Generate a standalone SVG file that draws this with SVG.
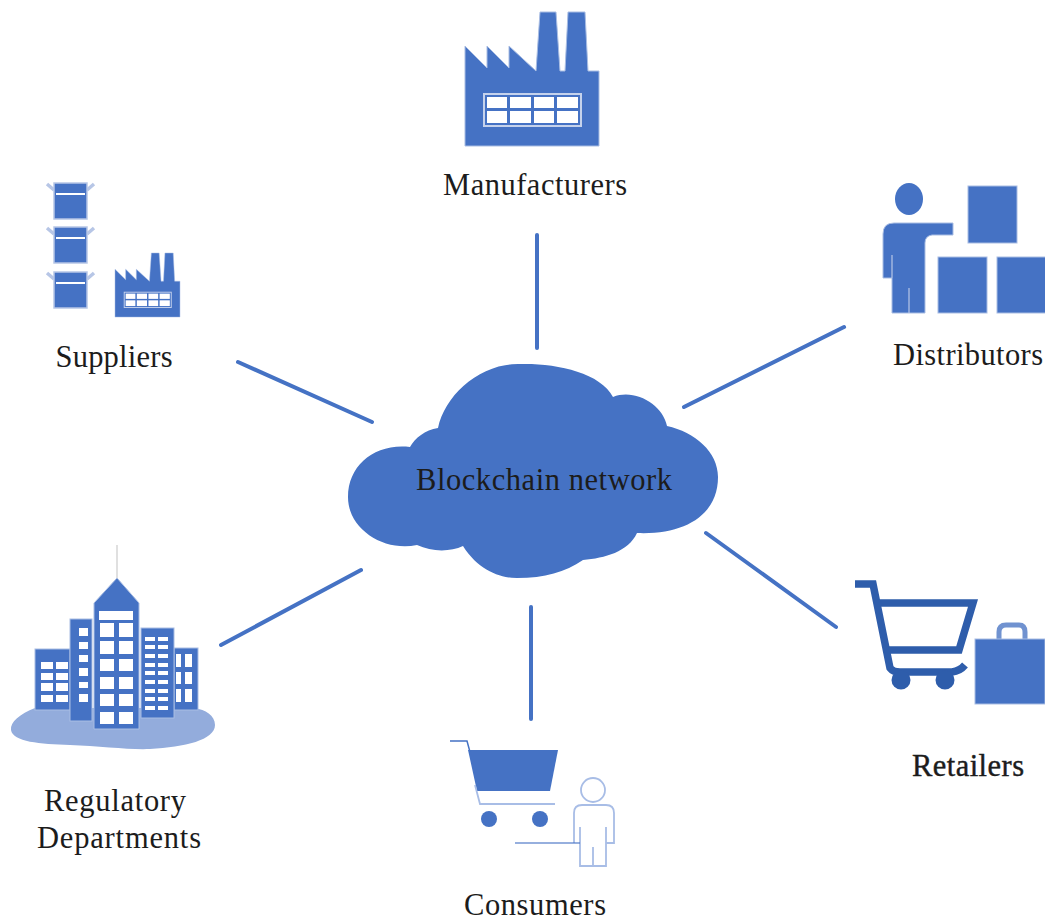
<svg xmlns="http://www.w3.org/2000/svg" xmlns:xlink="http://www.w3.org/1999/xlink" width="1045" height="922" viewBox="0 0 1045 922">
<style>
.f{fill:#4472c4}
.w{fill:#fff}
.e{fill:#4472c4;stroke:#a9bde3;stroke-width:1}
.c{stroke:#4472c4;stroke-width:4;stroke-linecap:round;fill:none}
.l{font-family:"Liberation Serif","Times New Roman",serif;font-size:30.500px;fill:#1c1c1c;text-anchor:middle}
.o{fill:none;stroke:#a8bde6;stroke-width:1.800}
.t{fill:none;stroke:#4472c4;stroke-width:1.500}
.r{fill:none;stroke:#2f5dab;stroke-width:7.500}
.b{filter:url(#soft)}
</style>
<defs>
<filter id="soft" x="-5%" y="-5%" width="110%" height="110%"><feGaussianBlur stdDeviation="0.5"/></filter>
<g id="factory">
<path class="e" d="M465,46L487,68V46L509,68V46L536,71L540,12H556L560,71H565L568,12H585L588,71H599V146H465Z"/>
<rect x="483" y="93" width="99" height="34" fill="#c5d2ec"/>
<rect class="f" x="485" y="95" width="95" height="30"/>
<g class="w">
<rect x="487" y="97" width="20" height="11"/><rect x="487" y="111" width="20" height="12"/>
<rect x="510" y="97" width="21" height="11"/><rect x="510" y="111" width="21" height="12"/>
<rect x="534" y="97" width="20" height="11"/><rect x="534" y="111" width="20" height="12"/>
<rect x="557" y="97" width="21" height="11"/><rect x="557" y="111" width="21" height="12"/>
</g>
</g>
<g id="box">
<path d="M54,190L47,184M87,190L94,184" stroke="#b7c6e6" stroke-width="3.500" fill="none"/>
<rect x="54" y="183" width="33" height="36" fill="#4472c4" stroke="#b7c6e6" stroke-width="1.500"/>
<rect x="56" y="193" width="29" height="2" fill="#fff"/>
</g>
</defs>
<g id="connectors" class="b">
<path class="c" d="M537,235V348"/>
<path class="c" d="M238,362L372,422"/>
<path class="c" d="M684,407L844,327"/>
<path class="c" d="M221,645L361,570"/>
<path class="c" d="M531,607V719"/>
<path class="c" d="M706,533L836,627"/>
</g>
<g id="cloud">
<path class="f b" d="M410,447C375,443 348,465 348,497C348,530 385,552 417,545C432,552 450,552 463,546C478,570 500,578 517,578C545,578 565,572 583,560C605,558 628,552 637,533C685,535 718,515 718,477C718,452 695,432 667,426C663,405 635,388 613,397C600,372 555,363 520,364C480,363 445,395 438,428C425,430 415,438 410,447Z"/>
<text class="l" x="544" y="490" textLength="256">Blockchain network</text>
</g>
<g id="manufacturers">
<use class="b" xlink:href="#factory" href="#factory"/>
<text class="l" x="535" y="195" textLength="184">Manufacturers</text>
</g>
<g id="suppliers">
<g class="b">
<use xlink:href="#box" href="#box"/>
<use xlink:href="#box" href="#box" y="44"/>
<use xlink:href="#box" href="#box" y="89"/>
<use xlink:href="#factory" href="#factory" transform="translate(115,253) scale(.485,.478) translate(-465,-12)"/>
</g>
<text class="l" x="114" y="367" textLength="117">Suppliers</text>
</g>
<g id="distributors">
<g class="b">
<ellipse class="f" cx="909" cy="199" rx="14" ry="16"/>
<path class="e" d="M883,278V234Q883,223 894,223H953V235H932Q925,236 925,243V313H892V278Z"/>
<path d="M892,255V278M909,288V313" stroke="#b7c6e6" stroke-width="1.200" fill="none"/>
<rect class="e" x="968" y="186" width="49" height="57"/>
<rect class="e" x="938" y="257" width="49" height="56"/>
<rect class="e" x="997" y="257" width="49" height="56"/>
</g>
<text class="l" x="968" y="365" textLength="150">Distributors</text>
</g>
<g id="regulatory">
<g class="b">
<path fill="#93acdc" d="M35,708C20,714 10,722 11,730C13,742 40,744 70,745C100,746 130,750 150,749C185,747 215,740 215,725C215,715 205,710 195,708Z"/>
<path d="M117,545V578" stroke="#d6d6d6" stroke-width="1.500"/>
<rect class="e" x="35" y="649" width="35" height="61"/>
<rect class="e" x="174" y="648" width="24" height="62"/>
<rect class="e" x="70" y="619" width="22" height="102"/>
<rect class="e" x="141" y="628" width="33" height="90"/>
<path class="e" d="M117,578L139,603V729H94V603Z"/>
<g class="w">
<rect x="99" y="611" width="34" height="9"/>
<rect x="100" y="623" width="14" height="14"/><rect x="119" y="623" width="14" height="14"/>
<rect x="100" y="641" width="14" height="13"/><rect x="119" y="641" width="14" height="13"/>
<rect x="100" y="659" width="14" height="12"/><rect x="119" y="659" width="14" height="12"/>
<rect x="100" y="677" width="14" height="12"/><rect x="119" y="677" width="14" height="12"/>
<rect x="100" y="694" width="14" height="12"/><rect x="119" y="694" width="14" height="12"/>
<rect x="100" y="712" width="14" height="12"/><rect x="119" y="712" width="14" height="12"/>
<rect x="79" y="628" width="9" height="8"/><rect x="79" y="642" width="9" height="7"/><rect x="79" y="655" width="9" height="7"/><rect x="79" y="668" width="9" height="8"/><rect x="79" y="682" width="9" height="6"/><rect x="79" y="694" width="9" height="8"/>
<rect x="145" y="637" width="10" height="4"/><rect x="158" y="637" width="10" height="4"/>
<rect x="145" y="645" width="10" height="4"/><rect x="158" y="645" width="10" height="4"/>
<rect x="145" y="654" width="10" height="4"/><rect x="158" y="654" width="10" height="4"/>
<rect x="145" y="663" width="10" height="4"/><rect x="158" y="663" width="10" height="4"/>
<rect x="145" y="671" width="10" height="4"/><rect x="158" y="671" width="10" height="4"/>
<rect x="145" y="680" width="10" height="4"/><rect x="158" y="680" width="10" height="4"/>
<rect x="145" y="689" width="10" height="4"/><rect x="158" y="689" width="10" height="4"/>
<rect x="145" y="697" width="10" height="4"/><rect x="158" y="697" width="10" height="4"/>
<rect x="145" y="706" width="10" height="4"/><rect x="158" y="706" width="10" height="4"/>
<rect x="41" y="662" width="12" height="7"/><rect x="56" y="662" width="12" height="7"/>
<rect x="41" y="673" width="12" height="7"/><rect x="56" y="673" width="12" height="7"/>
<rect x="41" y="683" width="12" height="8"/><rect x="56" y="683" width="12" height="8"/>
<rect x="41" y="695" width="12" height="7"/><rect x="56" y="695" width="12" height="7"/>
<rect x="176" y="654" width="5" height="13"/><rect x="185" y="654" width="7" height="13"/>
<rect x="176" y="672" width="5" height="12"/><rect x="185" y="672" width="7" height="12"/>
<rect x="176" y="689" width="5" height="13"/><rect x="185" y="689" width="7" height="13"/>
</g>
</g>
<text class="l" x="115" y="811" textLength="142">Regulatory</text>
<text class="l" x="119" y="848" textLength="164">Departments</text>
</g>
<g id="consumers">
<g class="b">
<path class="f" d="M468,750H558L550,791H477Z"/>
<path class="t" d="M450,741H467L470,752"/>
<path class="o" d="M475,785L480,804H555"/>
<circle class="f" cx="489" cy="819" r="8"/>
<circle class="f" cx="540" cy="819" r="8"/>
<circle class="o" cx="593" cy="790" r="12"/>
<path class="o" d="M574,843V813Q574,805 582,805H606Q614,805 614,813V843H606"/>
<path class="o" d="M580,827V866H606V827M593,847V866"/>
<path class="t" d="M515,843H580" stroke-opacity=".75"/>
</g>
<text class="l" x="535" y="915" textLength="142">Consumers</text>
</g>
<g id="retailers">
<g class="b">
<path class="r" d="M855,584H873L890,668Q893,672 900,672H952Q960,671 965,665"/>
<path class="r" d="M877,603H973L959,650H886"/>
<circle cx="901" cy="680" r="9.500" fill="#2f5dab"/>
<circle cx="945" cy="680" r="9.500" fill="#2f5dab"/>
<path d="M999,640V632Q999,625 1006,625H1019Q1025,625 1025,632V640" fill="none" stroke="#6f92d0" stroke-width="5"/>
<rect class="e" x="975" y="639" width="70" height="65"/>
</g>
<text class="l" x="968" y="776" textLength="112" stroke="#1c1c1c" stroke-width=".4">Retailers</text>
</g>
</svg>
